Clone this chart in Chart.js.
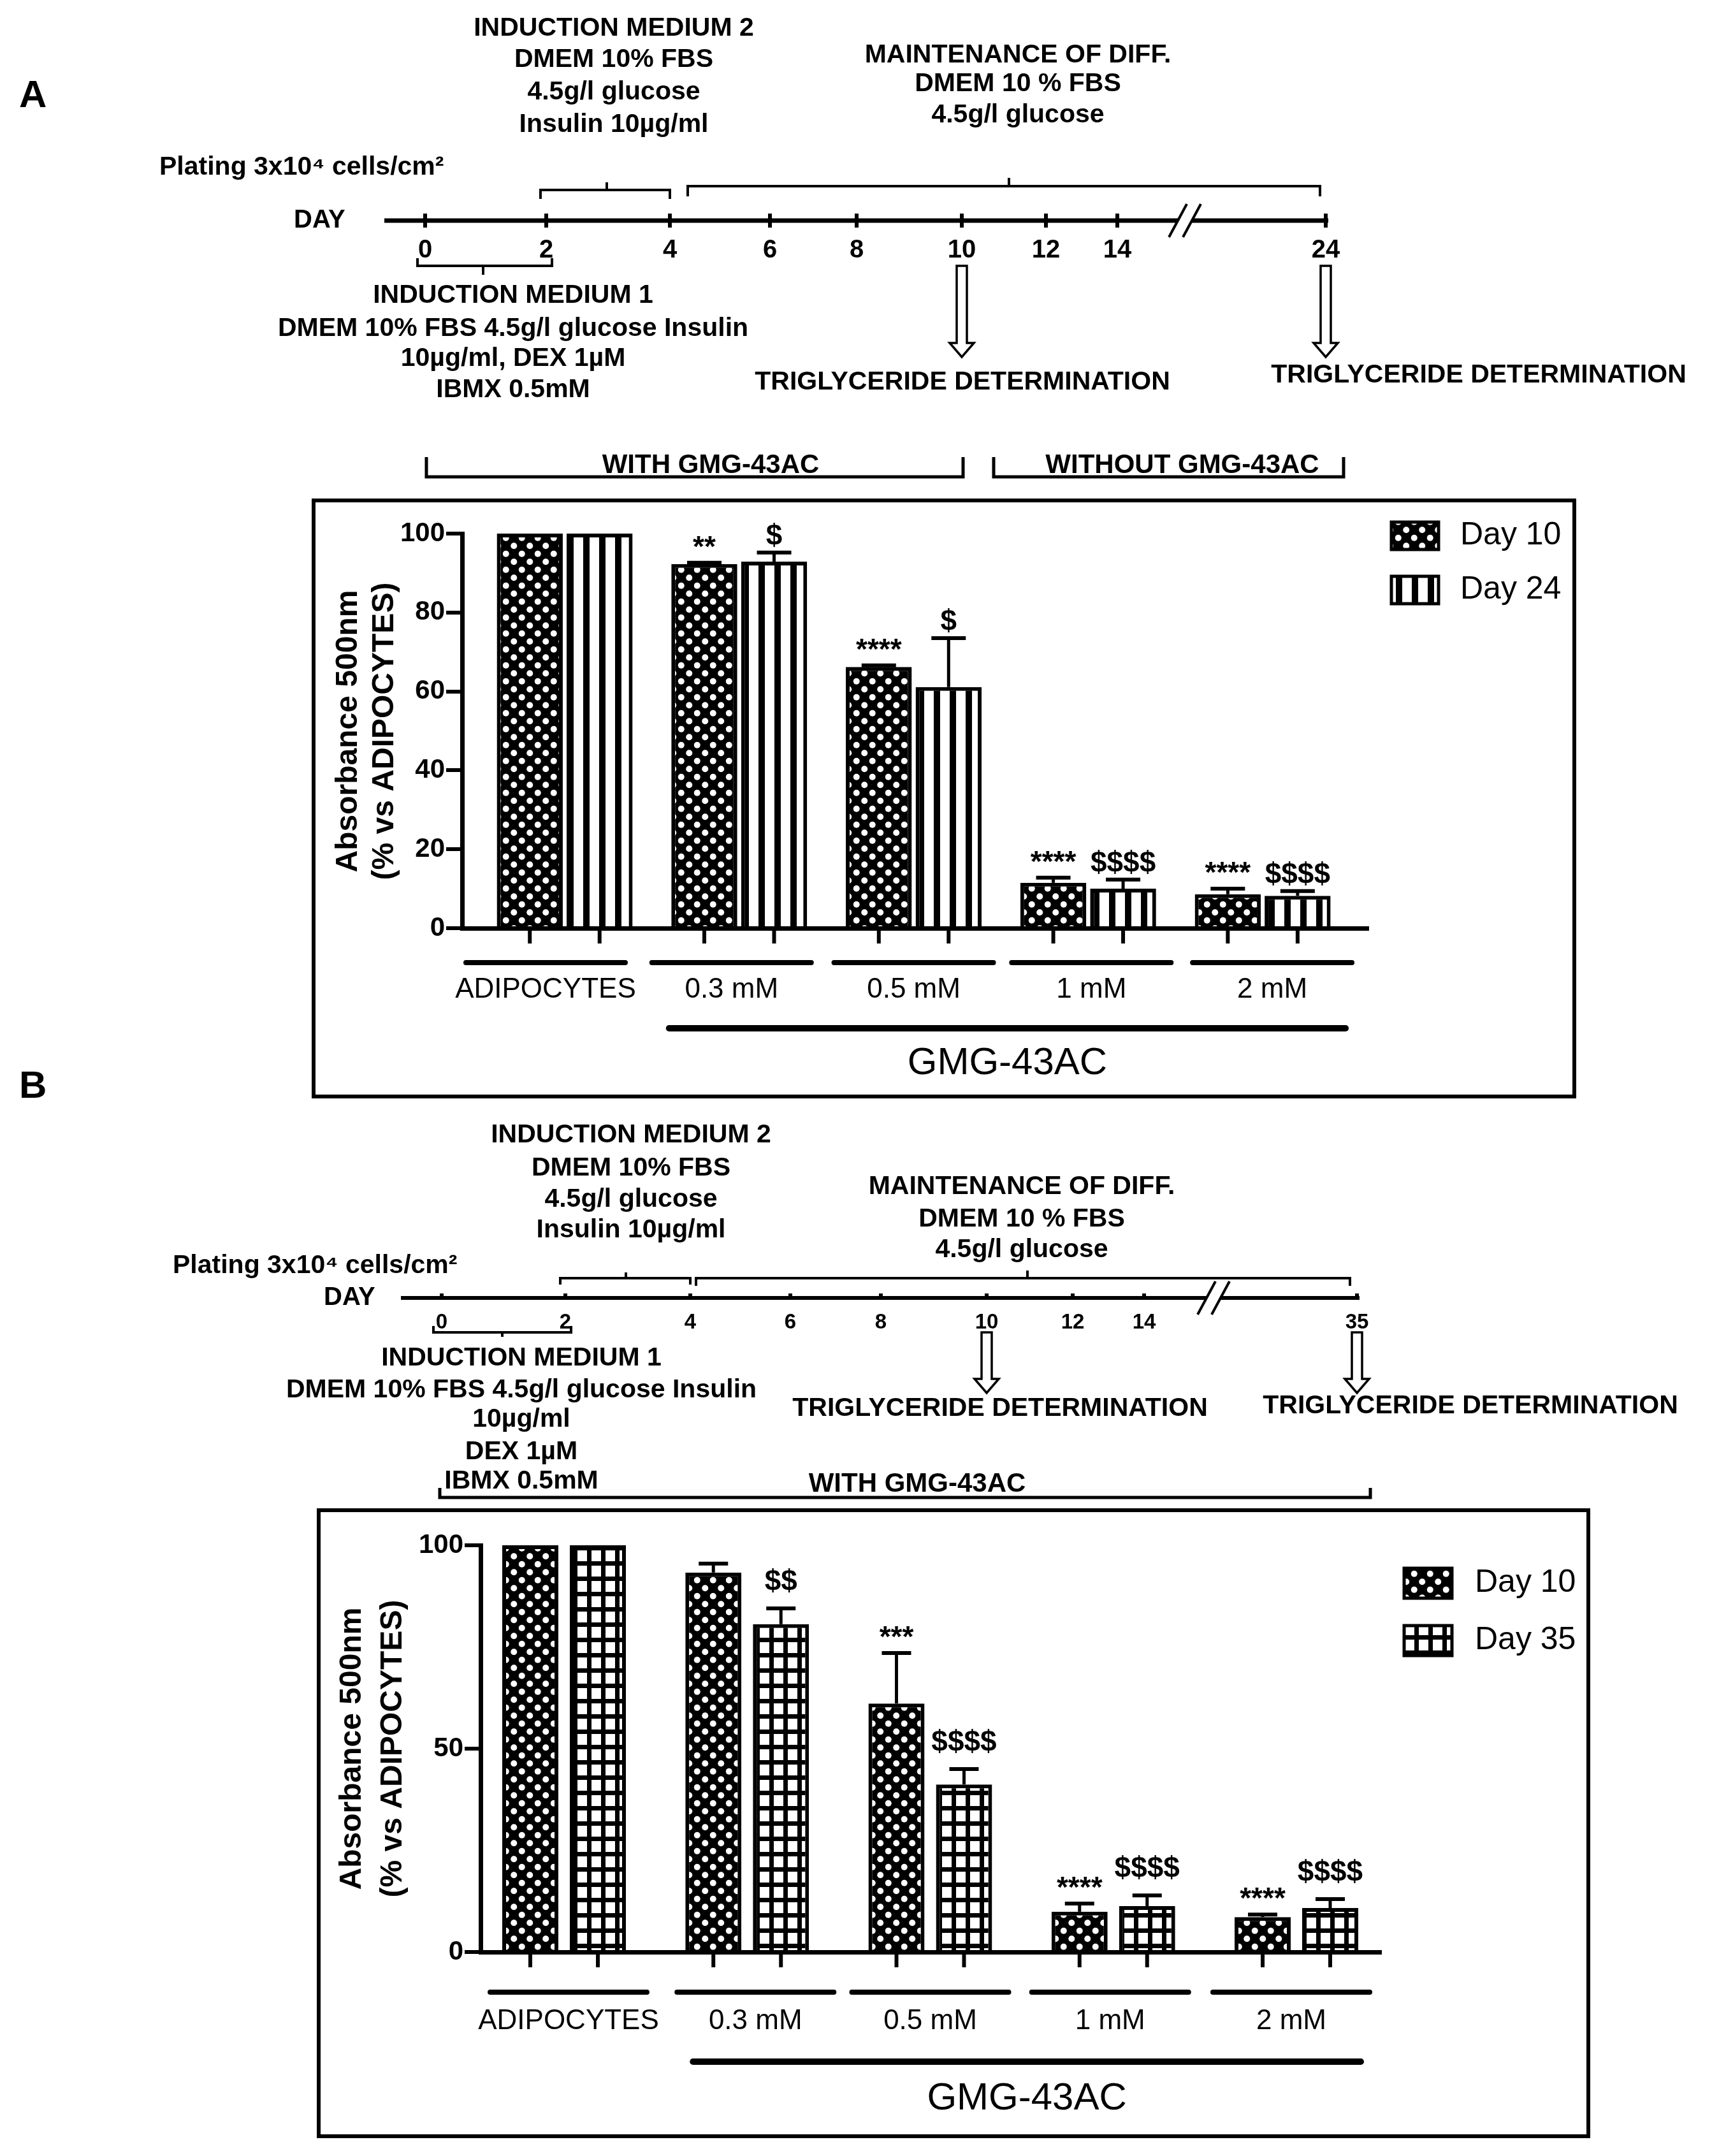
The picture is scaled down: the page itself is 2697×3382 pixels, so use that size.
<!DOCTYPE html>
<html>
<head>
<meta charset="utf-8">
<script src="https://cdn.jsdelivr.net/npm/chart.js@4.4.0/dist/chart.umd.min.js"></script>
<style>
  html, body { margin: 0; padding: 0; background: #fff; }
  #wrap { position: relative; width: 2697px; height: 3382px; overflow: hidden; }
  canvas { position: absolute; left: 0; }
  #chartA { top: 0; }
  #chartB { top: 1660px; }
</style>
</head>
<body>
<div id="wrap">
  <canvas id="chartA" width="2697" height="1740"></canvas>
  <canvas id="chartB" width="2697" height="1722"></canvas>
</div>
<script>
const FAMILY = '"Liberation Sans", Arial, sans-serif';
Chart.defaults.font.family = FAMILY;
Chart.defaults.color = '#000';

// ---- data ----
const categories = ['ADIPOCYTES', '0.3 mM', '0.5 mM', '1 mM', '2 mM'];

const day10A = [100, 92.3, 66.2, 11.5, 8.6];
const day10ErrA = [0, 0.3, 0.4, 1.3, 1.4];
const day10SigA = ['', '**', '****', '****', '****'];
const day24A = [100, 92.9, 61.1, 10.0, 8.2];
const day24ErrA = [0, 2.3, 12.4, 2.3, 1.2];
const day24SigA = ['', '$', '$', '$$$$', '$$$$'];

const day10B = [100, 93.3, 61.1, 9.9, 8.6];
const day10ErrB = [0, 2.2, 12.4, 2.0, 0.6];
const day10SigB = ['', '', '***', '****', '****'];
const day35B = [100, 80.6, 41.2, 11.3, 10.8];
const day35ErrB = [0, 3.9, 3.8, 2.6, 2.2];
const day35SigB = ['', '$$', '$$$$', '$$$$', '$$$$'];

const yStepA = 20;
const yStepB = 50;

const daysA = [0, 2, 4, 6, 8, 10, 12, 14, 24];
const daysB = [0, 2, 4, 6, 8, 10, 12, 14, 35];

const im2Text = ['INDUCTION MEDIUM 2', 'DMEM 10% FBS', '4.5g/l glucose', 'Insulin 10µg/ml'];
const maintText = ['MAINTENANCE OF DIFF.', 'DMEM 10 % FBS', '4.5g/l glucose'];
const im1TextA = ['INDUCTION MEDIUM 1', 'DMEM 10% FBS 4.5g/l glucose Insulin', '10µg/ml, DEX 1µM', 'IBMX 0.5mM'];
const im1TextB = ['INDUCTION MEDIUM 1', 'DMEM 10% FBS 4.5g/l glucose Insulin', '10µg/ml', 'DEX 1µM', 'IBMX 0.5mM'];
const platingText = 'Plating 3x10⁴ cells/cm²';
const tgText = 'TRIGLYCERIDE DETERMINATION';
const yTitle = ['Absorbance 500nm', '(% vs ADIPOCYTES)'];
const drugText = 'GMG-43AC';

// ---- drawing helpers ----
const TL = 'bold 41px ' + FAMILY;

function text(ctx, s, x, y, font, align, base) {
  ctx.font = font;
  ctx.textAlign = align || 'center';
  ctx.textBaseline = base || 'middle';
  ctx.fillText(s, x, y);
}

function seg(ctx, pts, w, cap) {
  ctx.lineWidth = w;
  ctx.lineCap = cap || 'butt';
  ctx.lineJoin = 'miter';
  ctx.beginPath();
  ctx.moveTo(pts[0][0], pts[0][1]);
  for (let i = 1; i < pts.length; i++) ctx.lineTo(pts[i][0], pts[i][1]);
  ctx.stroke();
}

function bracket(ctx, b) {
  seg(ctx, [[b.x0, b.y + b.end], [b.x0, b.y], [b.x1, b.y], [b.x1, b.y + b.end]], b.w || 4);
  if (b.nub) seg(ctx, [[b.nub, b.y], [b.nub, b.y + b.nubH]], b.w || 4);
}

function arrow(ctx, x, y0, y1) {
  const sw = 8, hw = 19, hh = 22;
  ctx.beginPath();
  ctx.moveTo(x - sw, y0);
  ctx.lineTo(x - sw, y1 - hh);
  ctx.lineTo(x - hw, y1 - hh);
  ctx.lineTo(x, y1);
  ctx.lineTo(x + hw, y1 - hh);
  ctx.lineTo(x + sw, y1 - hh);
  ctx.lineTo(x + sw, y0);
  ctx.closePath();
  ctx.fillStyle = '#fff';
  ctx.fill();
  ctx.lineWidth = 3.5;
  ctx.stroke();
  ctx.fillStyle = '#000';
}

function makePattern(ctx, kind) {
  const c = document.createElement('canvas');
  const g = c.getContext('2d');
  if (kind === 'dots') {
    c.width = 25; c.height = 25;
    g.fillStyle = '#000'; g.fillRect(0, 0, 25, 25);
    g.fillStyle = '#fff';
    [[6.25, 6.25], [18.75, 18.75]].forEach(p => {
      g.beginPath(); g.arc(p[0], p[1], 5, 0, Math.PI * 2); g.fill();
    });
  } else if (kind === 'stripes') {
    c.width = 25; c.height = 4;
    g.fillStyle = '#fff'; g.fillRect(0, 0, 25, 4);
    g.fillStyle = '#000'; g.fillRect(15, 0, 10, 4);
  } else {
    c.width = 22; c.height = 24;
    g.fillStyle = '#000'; g.fillRect(0, 0, 22, 24);
    g.fillStyle = '#fff'; g.fillRect(4, 4, 15, 17);
  }
  return ctx.createPattern(c, 'repeat');
}

function drawTimeline(ctx, t) {
  ctx.fillStyle = '#000';
  ctx.strokeStyle = '#000';
  text(ctx, t.panel, t.panelX, t.panelY, 'bold 60px ' + FAMILY, 'left');
  im2Text.forEach((s, i) => text(ctx, s, t.im2X, t.im2Y[i], TL));
  maintText.forEach((s, i) => text(ctx, s, t.maintX, t.maintY[i], TL));
  t.im1.forEach((s, i) => text(ctx, s, t.im1X, t.im1Y[i], TL));
  text(ctx, platingText, t.platingX, t.platingY, TL, 'left');
  text(ctx, 'DAY', t.dayX, t.lineY, 'bold 40px ' + FAMILY, 'left');

  // day axis, broken before the last day
  const y = t.lineY;
  seg(ctx, [[t.lineX0, y], [t.brkX - 11, y]], t.lineW);
  seg(ctx, [[t.brkX + 11, y], [t.lineX1, y]], t.lineW);
  [-11, 11].forEach(dx => seg(ctx, [[t.brkX + dx - 14, y + 26], [t.brkX + dx + 14, y - 26]], 4));

  t.days.forEach((d, i) => {
    const x = t.tickX[i];
    seg(ctx, [[x, y - t.tickUp], [x, y + t.tickDown]], 6);
    text(ctx, String(d), x, t.tickLabelY, 'bold ' + t.tickFont + 'px ' + FAMILY);
  });

  t.brackets.forEach(b => bracket(ctx, b));
  t.arrowIdx.forEach(i => arrow(ctx, t.tickX[i], t.arrowY0, t.arrowY1));
  t.tg.forEach(p => text(ctx, tgText, p[0], p[1], TL));
  t.withBr.forEach(b => {
    bracket(ctx, { x0: b.x0, x1: b.x1, y: b.y, end: b.end, w: 5 });
    text(ctx, b.text, b.tx, b.ty, 'bold 42px ' + FAMILY);
  });
}

// ---- panel plugin: box, axis title, error bars, group labels, legend, timeline ----
function panelPlugin(cfg) {
  return {
    id: 'panel' + cfg.name,
    afterDraw(chart) {
      const ctx = chart.ctx;
      const oy = cfg.oy;
      const xs = chart.scales.x, ys = chart.scales.y;
      const py = v => ys.getPixelForValue(v) + oy;
      ctx.save();
      ctx.translate(0, -oy);
      ctx.strokeStyle = '#000';
      ctx.fillStyle = '#000';

      drawTimeline(ctx, cfg.tl);

      const b = cfg.box;
      ctx.lineWidth = 6;
      ctx.strokeRect(b[0], b[1], b[2] - b[0], b[3] - b[1]);

      yTitle.forEach((s, i) => {
        ctx.save();
        ctx.translate(cfg.yTitleX[i], cfg.yTitleY);
        ctx.rotate(-Math.PI / 2);
        text(ctx, s, 0, 0, 'bold 48px ' + FAMILY);
        ctx.restore();
      });

      const axisY = py(0);
      cfg.series.forEach((s, d) => {
        chart.getDatasetMeta(d).data.forEach((el, i) => {
          const x = el.x;
          const eTop = py(s.values[i] + s.err[i]);
          if (s.err[i] > 0) {
            seg(ctx, [[x, el.y + oy], [x, eTop]], 5);
            seg(ctx, [[x - cfg.cap, eTop], [x + cfg.cap, eTop]], 6);
          }
          const sig = s.sig[i];
          if (sig) {
            const gap = sig[0] === '$' ? cfg.gapDollar : cfg.gapStar;
            text(ctx, sig, x, eTop - gap, 'bold 46px ' + FAMILY, 'center', 'alphabetic');
          }
          seg(ctx, [[x, axisY], [x, axisY + 24]], 6);
        });
      });

      categories.forEach((c, i) => {
        const cx = xs.getPixelForValue(i) + cfg.nudge[i];
        seg(ctx, [[cx - cfg.underHalf, cfg.underY], [cx + cfg.underHalf, cfg.underY]], 8, 'round');
        text(ctx, c, cx, cfg.labelY, '44px ' + FAMILY);
      });

      const gx0 = xs.getPixelForValue(1) - cfg.gmgL;
      const gx1 = xs.getPixelForValue(categories.length - 1) + cfg.gmgR;
      seg(ctx, [[gx0, cfg.gmgY], [gx1, cfg.gmgY]], 10, 'round');
      text(ctx, drugText, (gx0 + gx1) / 2, cfg.gmgTextY, '60px ' + FAMILY);

      const L = cfg.legend;
      cfg.series.forEach((s, d) => {
        ctx.fillStyle = chart.data.datasets[d].backgroundColor;
        ctx.fillRect(L.x, L.y[d], L.w, L.h);
        ctx.lineWidth = 5;
        ctx.strokeRect(L.x, L.y[d], L.w, L.h);
        ctx.fillStyle = '#000';
        text(ctx, s.label, L.tx, L.y[d] + L.h / 2, '50px ' + FAMILY, 'left');
      });
      ctx.restore();
    }
  };
}

function makeChart(id, cfg) {
  const ctx = document.getElementById(id).getContext('2d');
  const datasets = cfg.series.map(s => ({
    label: s.label,
    data: s.values.map((v, i) => ({ x: i, y: v })),
    backgroundColor: makePattern(ctx, s.pattern),
    borderColor: '#000',
    borderWidth: 6,
    categoryPercentage: cfg.catPct,
    barPercentage: cfg.barPct
  }));
  return new Chart(ctx, {
    type: 'bar',
    data: { datasets: datasets },
    options: {
      responsive: false,
      animation: false,
      devicePixelRatio: 1,
      layout: { padding: cfg.padding },
      plugins: { legend: { display: false }, tooltip: { enabled: false } },
      scales: {
        x: {
          type: 'linear', min: cfg.xMin, max: cfg.xMax, offset: false,
          grid: { display: false },
          // integer ticks only, so the bar width follows the category spacing
          ticks: { display: false, stepSize: 1, includeBounds: false },
          border: { display: true, width: 7, color: '#000' },
          afterFit: s => { s.height = 0; }
        },
        y: {
          min: 0, max: 100,
          ticks: { stepSize: cfg.step, color: '#000', padding: 2, font: { size: 42, weight: 'bold' } },
          grid: { display: true, drawOnChartArea: false, drawTicks: true, tickLength: 25, lineWidth: 6, tickWidth: 6, tickColor: '#000', color: '#000' },
          border: { display: true, width: 7, color: '#000' },
          afterFit: s => { s.width = 120; }
        }
      }
    },
    plugins: [panelPlugin(cfg)]
  });
}

makeChart('chartA', {
  name: 'A', oy: 0,
  padding: { left: 605, right: 550, top: 837, bottom: 284 },
  xMin: -0.588, xMax: 4.606, step: yStepA,
  catPct: 0.80, barPct: 0.945,
  series: [
    { label: 'Day 10', values: day10A, err: day10ErrA, sig: day10SigA, pattern: 'dots' },
    { label: 'Day 24', values: day24A, err: day24ErrA, sig: day24SigA, pattern: 'stripes' }
  ],
  cap: 27, gapStar: 10, gapDollar: 12,
  box: [492, 785, 2470, 1720],
  yTitleX: [547, 604], yTitleY: 1147,
  underY: 1510, underHalf: 125, labelY: 1553, nudge: [-30, -12, 0, 5, 15],
  gmgL: 110, gmgR: 130, gmgY: 1613, gmgTextY: 1668,
  legend: { x: 2183, w: 74, h: 43, y: [819, 904], tx: 2291 },
  tl: {
    panel: 'A', panelX: 30, panelY: 151,
    im2X: 963, im2Y: [45, 94, 145, 196],
    maintX: 1597, maintY: [87, 132, 181],
    im1: im1TextA, im1X: 805, im1Y: [464, 516, 563, 612],
    platingX: 250, platingY: 263, dayX: 461,
    lineY: 346, lineX0: 603, lineX1: 2084, lineW: 7, brkX: 1859,
    days: daysA, tickX: [667, 857, 1051, 1208, 1344, 1509, 1641, 1753, 2080],
    tickUp: 11, tickDown: 11, tickLabelY: 393, tickFont: 40,
    brackets: [
      { x0: 848, x1: 1051, y: 298, end: 14, nub: 952, nubH: -12 },
      { x0: 1079, x1: 2071, y: 292, end: 16, nub: 1583, nubH: -13 },
      { x0: 655, x1: 866, y: 417, end: -12, nub: 758, nubH: 14 }
    ],
    arrowIdx: [5, 8], arrowY0: 417, arrowY1: 560,
    tg: [[1510, 600], [2320, 589]],
    withBr: [
      { x0: 669, x1: 1511, y: 748, end: -31, text: 'WITH GMG-43AC', tx: 1115, ty: 730 },
      { x0: 1559, x1: 2108, y: 748, end: -31, text: 'WITHOUT GMG-43AC', tx: 1855, ty: 730 }
    ]
  }
});

makeChart('chartB', {
  name: 'B', oy: 1660,
  padding: { left: 634, right: 530, top: 764, bottom: 320 },
  xMin: -0.456, xMax: 4.463, step: yStepB,
  catPct: 0.738, barPct: 0.83,
  series: [
    { label: 'Day 10', values: day10B, err: day10ErrB, sig: day10SigB, pattern: 'dots' },
    { label: 'Day 35', values: day35B, err: day35ErrB, sig: day35SigB, pattern: 'grid' }
  ],
  cap: 23, gapStar: 10, gapDollar: 28,
  box: [500, 2369, 2492, 3351],
  yTitleX: [553, 617], yTitleY: 2743,
  underY: 3125, underHalf: 123, labelY: 3171, nudge: [7, 13, 0, -5, -8],
  gmgL: 85, gmgR: 101, gmgY: 3234, gmgTextY: 3292,
  legend: { x: 2203, w: 75, h: 47, y: [2460, 2550], tx: 2314 },
  tl: {
    panel: 'B', panelX: 30, panelY: 1705,
    im2X: 990, im2Y: [1781, 1833, 1882, 1930],
    maintX: 1603, maintY: [1862, 1913, 1961],
    im1: im1TextB, im1X: 818, im1Y: [2131, 2181, 2227, 2278, 2324],
    platingX: 271, platingY: 1986, dayX: 508,
    lineY: 2036, lineX0: 629, lineX1: 2133, lineW: 6, brkX: 1904,
    days: daysB, tickX: [693, 887, 1083, 1240, 1382, 1548, 1683, 1795, 2129],
    tickUp: 7, tickDown: 2, tickLabelY: 2075, tickFont: 33,
    brackets: [
      { x0: 879, x1: 1083, y: 2005, end: 10, nub: 982, nubH: -9 },
      { x0: 1092, x1: 2118, y: 2005, end: 12, nub: 1612, nubH: -12 },
      { x0: 680, x1: 896, y: 2090, end: -10, nub: 788, nubH: 7 }
    ],
    arrowIdx: [5, 8], arrowY0: 2090, arrowY1: 2185,
    tg: [[1569, 2210], [2307, 2206]],
    withBr: [
      { x0: 690, x1: 2150, y: 2349, end: -15, text: 'WITH GMG-43AC', tx: 1439, ty: 2328 }
    ]
  }
});
</script>
</body>
</html>
